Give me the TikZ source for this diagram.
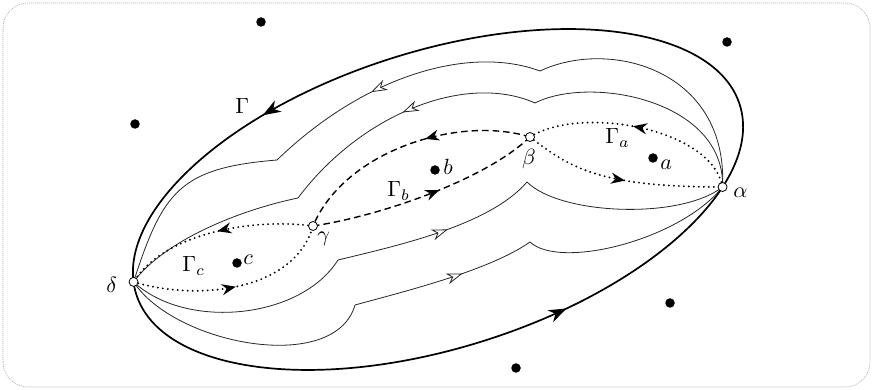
\documentclass[tikz,border=0pt]{standalone}
\usetikzlibrary{arrows.meta,decorations.markings}
\pgfdeclarelayer{bg}
\pgfsetlayers{bg,main}
\tikzset{
  bigtip/.tip={Stealth[length=18pt,width=13pt,inset=5.5pt]},
  smalltip/.tip={Stealth[length=14pt,width=11pt,inset=4.5pt]},
  opentip/.tip={Stealth[length=16pt,width=11pt,inset=5pt,fill=white]},
  fwdmark/.style={postaction={decorate,decoration={markings,mark=at position #1 with {\arrow{smalltip}}}}},
  revmark/.style={postaction={decorate,decoration={markings,mark=at position #1 with {\arrowreversed{smalltip}}}}},
  openfwd/.style={postaction={decorate,decoration={markings,mark=at position #1 with {\arrow{opentip}}}}},
  openrev/.style={postaction={decorate,decoration={markings,mark=at position #1 with {\arrowreversed{opentip}}}}},
}
\begin{document}
\begin{tikzpicture}[x=1pt,y=1pt,
  frame/.style={draw=black!35, line width=0.6pt, dash pattern=on 1pt off 1pt, rounded corners=25pt},
  gammaline/.style={line width=1.7pt},
  thincurve/.style={draw=black!85, line width=0.8pt},
  dotline/.style={line width=2.1pt, dash pattern=on 0pt off 5pt, line cap=round},
  dashline/.style={line width=1.4pt, dash pattern=on 6.5pt off 4pt},
  opt/.style={circle, draw, fill=white, inner sep=0pt, minimum size=9pt, line width=0.8pt},
  blackdot/.style={circle, fill, inner sep=0pt, minimum size=9.5pt},
  lab/.style={scale=2.2, inner sep=0pt},
]
\useasboundingbox (0,0) rectangle (873,390);
\draw[frame] (3,3) rectangle (870,387);

% points on the outer ellipse
\begin{scope}[shift={(438,190.5)},rotate=17.4]
  \coordinate (ctr) at (0,0);
  \coordinate (pA) at (-29.5:316.3 and 148.6);
  \coordinate (pD) at (175.2:316.3 and 148.6);
\end{scope}

% marked points
\node[opt] (A) at (pA) {};
\node[opt] (B) at (530,253) {};
\node[opt] (G) at (313,164) {};
\node[opt] (D) at (pD) {};

% cusps of the thin curves
\coordinate (u1a) at (277,230);
\coordinate (u1b) at (540,319);
\coordinate (u2a) at (298,192);
\coordinate (u2b) at (535,287);
\coordinate (l1a) at (338,130);
\coordinate (l1b) at (527,208);
\coordinate (l2a) at (355,85);
\coordinate (l2b) at (530,148);

\begin{pgfonlayer}{bg}
  % outer contour Gamma
  \begin{scope}[shift={(438,190.5)},rotate=17.4]
    \draw[gammaline, postaction={decorate,decoration={markings,
        mark=at position 0.345 with {\arrow{bigtip}},
        mark=at position 0.81 with {\arrow{bigtip}}}}]
      (0,0) ellipse [x radius=316.3, y radius=148.6];
  \end{scope}

  % upper outer thin curve
  \draw[thincurve] (D.center) .. controls (163,199) and (180,222) .. (u1a);
  \draw[thincurve, openrev=0.4] (u1a) .. controls (365,315) and (470,345) .. (u1b);
  \draw[thincurve] (u1b) .. controls (610,352) and (728,320) .. (A.center);
  % upper inner thin curve
  \draw[thincurve] (D.center) .. controls (165,150) and (240,180) .. (u2a);
  \draw[thincurve, openrev=0.5] (u2a) .. controls (360,275) and (465,318) .. (u2b);
  \draw[thincurve] (u2b) .. controls (590,315) and (725,290) .. (A.center);
  % lower inner thin curve
  \draw[thincurve] (D.center) .. controls (185,60) and (300,70) .. (l1a);
  \draw[thincurve, openfwd=0.55] (l1a) .. controls (400,145) and (490,165) .. (l1b);
  \draw[thincurve] (l1b) .. controls (560,175) and (680,170) .. (A.center);
  % lower outer thin curve
  \draw[thincurve] (D.center) .. controls (175,45) and (335,15) .. (l2a);
  \draw[thincurve, openfwd=0.6] (l2a) .. controls (410,100) and (490,120) .. (l2b);
  \draw[thincurve] (l2b) .. controls (560,120) and (680,150) .. (A.center);

  % Gamma_a (dotted)
  \draw[dotline, fwdmark=0.52] (B.center) .. controls (570,222) and (600,203) .. (A.center);
  \draw[dotline, fwdmark=0.52] (A.center) .. controls (712,262) and (580,285) .. (B.center);
  % Gamma_b (dashed)
  \draw[dashline, fwdmark=0.555] (G.center) .. controls (380,174) and (485,210) .. (B.center);
  \draw[dashline, fwdmark=0.42] (B.center) .. controls (460,275) and (345,240) .. (G.center);
  % Gamma_c (dotted)
  \draw[dotline, fwdmark=0.49] (G.center) .. controls (255,172) and (165,158) .. (D.center);
  \draw[dotline, fwdmark=0.5] (D.center) .. controls (200,88) and (295,100) .. (G.center);
\end{pgfonlayer}

% punctures
\node[blackdot] (p1) at (261,368) {};
\node[blackdot] (p2) at (135,266) {};
\node[blackdot] (p3) at (727,348) {};
\node[blackdot] (p4) at (670,87) {};
\node[blackdot] (p5) at (516,22) {};
\node[blackdot] (pa) at (653,232) {};
\node[blackdot] (pb) at (435,220) {};
\node[blackdot] (pc) at (237,127) {};

% labels
\node[lab, anchor=base west] (lG) at (235,276) {$\Gamma$};
\node[lab, anchor=base west] (lGa) at (605,246) {$\Gamma_a$};
\node[lab, anchor=base west] (lGb) at (387,193) {$\Gamma_b$};
\node[lab, anchor=base west] (lGc) at (182,118) {$\Gamma_c$};
\node[lab, anchor=base west] (la) at (660,220) {$a$};
\node[lab, anchor=base west] (lb) at (443,215) {$b$};
\node[lab, anchor=base west] (lc) at (243,125) {$c$};
\node[lab, anchor=base west] (lal) at (733,192) {$\alpha$};
\node[lab] (lbe) at (529,231) {$\beta$};
\node[lab, anchor=base west] (lga) at (317,148) {$\gamma$};
\node[lab, anchor=base west] (lde) at (106,97) {$\delta$};
\end{tikzpicture}
\end{document}
